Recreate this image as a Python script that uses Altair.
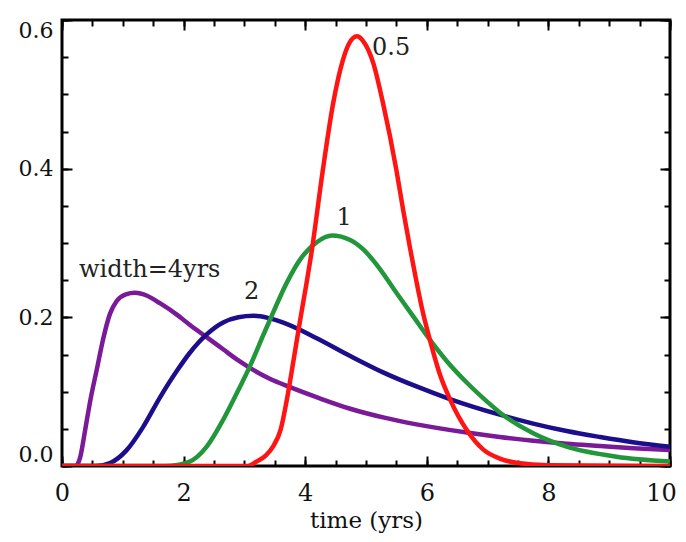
import altair as alt
import pandas as pd

# ---- data ----
purple_x = [0, 0.22, 0.3, 0.38, 0.47, 0.57, 0.68, 0.79, 0.9, 1.05, 1.2, 1.4, 1.61, 1.9, 2.1, 2.35, 2.65,
            2.9, 3.09, 3.4, 3.75, 4.24, 4.74, 5.3, 5.83, 6.66, 7.2, 7.75, 8.3, 8.85, 9.4, 10]
purple_y = [0, 0, 0.012, 0.048, 0.09, 0.129, 0.172, 0.205, 0.222, 0.231, 0.233, 0.229, 0.219, 0.203, 0.19, 0.175, 0.157,
            0.142, 0.132, 0.118, 0.106, 0.091, 0.077, 0.065, 0.056, 0.045, 0.039, 0.034, 0.030, 0.027, 0.024, 0.0215]

blue_x = [0, 0.55, 0.79, 1.06, 1.33, 1.61, 1.89, 2.1, 2.38, 2.65, 2.9, 3.15, 3.4, 3.64, 4.19, 4.74, 5.28, 5.83,
          6.38, 7.2, 7.75, 8.3, 8.85, 9.39, 10]
blue_y = [0, 0, 0.004, 0.021, 0.052, 0.092, 0.128, 0.152, 0.177, 0.193, 0.2, 0.202, 0.199, 0.193, 0.172, 0.148, 0.126, 0.107,
          0.09, 0.069, 0.057, 0.047, 0.039, 0.032, 0.026]

green_x = [0, 1.7, 2.1, 2.38, 2.65, 2.93, 3.09, 3.31, 3.47, 3.7, 3.91, 4.19, 4.44, 4.74, 4.96, 5.23, 5.5,
           5.78, 6.05, 6.33, 6.66, 7.0, 7.2, 7.75, 8.3, 9.12, 10]
green_y = [0, 0, 0.006, 0.026, 0.062, 0.107, 0.134, 0.176, 0.206, 0.247, 0.277, 0.301, 0.31, 0.304, 0.291, 0.265, 0.233,
           0.201, 0.17, 0.141, 0.112, 0.086, 0.072, 0.044, 0.026, 0.0125, 0.006]

red_x = [0, 3.05, 3.2, 3.35, 3.47, 3.6, 3.7, 3.8, 3.91, 4.02, 4.1, 4.29, 4.46, 4.62, 4.72, 4.85, 4.95, 5.12,
         5.28, 5.5, 5.61, 5.72, 5.83, 5.94, 6.05, 6.22, 6.38, 6.66, 6.93, 7.2, 7.5, 8.0, 10]
red_y = [0, 0, 0.006, 0.014, 0.026, 0.05, 0.09, 0.138, 0.193, 0.245, 0.285, 0.398, 0.488, 0.546, 0.568, 0.578, 0.572, 0.542,
         0.488, 0.398, 0.345, 0.295, 0.248, 0.205, 0.17, 0.122, 0.09, 0.048, 0.022, 0.01, 0.004, 0.001, 0]

series = [
    ("width=4yrs", purple_x, purple_y, "#7a1a98"),
    ("2", blue_x, blue_y, "#1c0d8c"),
    ("1", green_x, green_y, "#22963a"),
    ("0.5", red_x, red_y, "#ff1414"),
]

label_left_text = ["width=4yrs", "0.5"]
label_left_x = [0.28, 5.1]
label_left_y = [0.264, 0.563]
label_center_text = ["2", "1"]
label_center_x = [3.12, 4.64]
label_center_y = [0.234, 0.334]

x_major = [0, 2, 4, 6, 8, 10]
x_labels_main = [0, 2, 4, 6, 8]
x_labels_end = [10]
x_minor = [i * 0.5 for i in range(21)]
y_major = [0.0, 0.2, 0.4, 0.6]
y_minor = [round(i * 0.05, 2) for i in range(13)]

W, H = 608, 446
FONT = "DejaVu Serif"

xs = alt.Scale(domain=[0, 10], nice=False, zero=False)
ys = alt.Scale(domain=[0, 0.6], nice=False, zero=False)

layers = []
for name, xv, yv, col in series:
    layers.append(
        alt.Chart(pd.DataFrame({"t": xv, "v": yv}))
        .mark_line(color=col, strokeWidth=4.5, interpolate="monotone", clip=True)
        .encode(x=alt.X("t:Q", scale=xs, axis=None), y=alt.Y("v:Q", scale=ys, axis=None))
    )

frame_df = pd.DataFrame({"t": [0, 10], "v": [0, 0.6]})


def axis_layer(xaxis, yaxis):
    return (
        alt.Chart(frame_df)
        .mark_point(opacity=0)
        .encode(x=alt.X("t:Q", scale=xs, axis=xaxis), y=alt.Y("v:Q", scale=ys, axis=yaxis))
    )


common = dict(domain=False, grid=False, tickColor="black", tickWidth=2)
xlab = dict(ticks=False, tickSize=0, domain=False, grid=False, labelFont=FONT, labelFontSize=24,
            labelColor="#111", labelPadding=15, labelFlush=False)

lab = axis_layer(
    alt.Axis(orient="bottom", values=x_labels_main, title="time (yrs)", titleFont=FONT, titleFontSize=23,
             titleFontWeight="normal", titleColor="#111", titlePadding=4, **xlab),
    alt.Axis(orient="left", values=y_major, format=".1f", ticks=False, tickSize=0, domain=False, grid=False,
             labelFont=FONT, labelFontSize=22, labelColor="#111", labelPadding=9, labelFlush=True, title=None),
)
lab_end = axis_layer(
    alt.Axis(orient="bottom", values=x_labels_end, title=None, labelOffset=-9, **xlab),
    None,
)
bot_major = axis_layer(
    alt.Axis(orient="top", offset=-H, values=x_major, labels=False, tickSize=10, title=None, **common),
    alt.Axis(orient="right", offset=-W, values=y_major, labels=False, tickSize=10, title=None, **common),
)
bot_minor = axis_layer(
    alt.Axis(orient="top", offset=-H, values=x_minor, labels=False, tickSize=6, title=None, **common),
    alt.Axis(orient="right", offset=-W, values=y_minor, labels=False, tickSize=6, title=None, **common),
)
top_major = axis_layer(
    alt.Axis(orient="bottom", offset=-H, values=x_major, labels=False, tickSize=10, title=None, **common),
    alt.Axis(orient="left", offset=-W, values=y_major, labels=False, tickSize=10, title=None, **common),
)
top_minor = axis_layer(
    alt.Axis(orient="bottom", offset=-H, values=x_minor, labels=False, tickSize=6, title=None, **common),
    alt.Axis(orient="left", offset=-W, values=y_minor, labels=False, tickSize=6, title=None, **common),
)

txt_left = (
    alt.Chart(pd.DataFrame({"t": label_left_x, "v": label_left_y, "s": label_left_text}))
    .mark_text(align="left", baseline="middle", font=FONT, fontSize=24, color="#222")
    .encode(x=alt.X("t:Q", scale=xs, axis=None), y=alt.Y("v:Q", scale=ys, axis=None), text="s:N")
)
txt_center = (
    alt.Chart(pd.DataFrame({"t": label_center_x, "v": label_center_y, "s": label_center_text}))
    .mark_text(align="center", baseline="middle", font=FONT, fontSize=24, color="#222")
    .encode(x=alt.X("t:Q", scale=xs, axis=None), y=alt.Y("v:Q", scale=ys, axis=None), text="s:N")
)

chart = (
    alt.layer(lab, lab_end, bot_major, bot_minor, top_major, top_minor, *layers, txt_left, txt_center)
    .resolve_axis(x="independent", y="independent")
    .properties(
        width=W,
        height=H,
        autosize=alt.AutoSizeParams(type="none"),
        padding={"left": 54, "top": 12, "right": 8, "bottom": 68},
        background="white",
    )
    .configure_view(stroke="black", strokeWidth=3)
)

chart.save("out.html", embed_options={"renderer": "svg", "actions": False})
